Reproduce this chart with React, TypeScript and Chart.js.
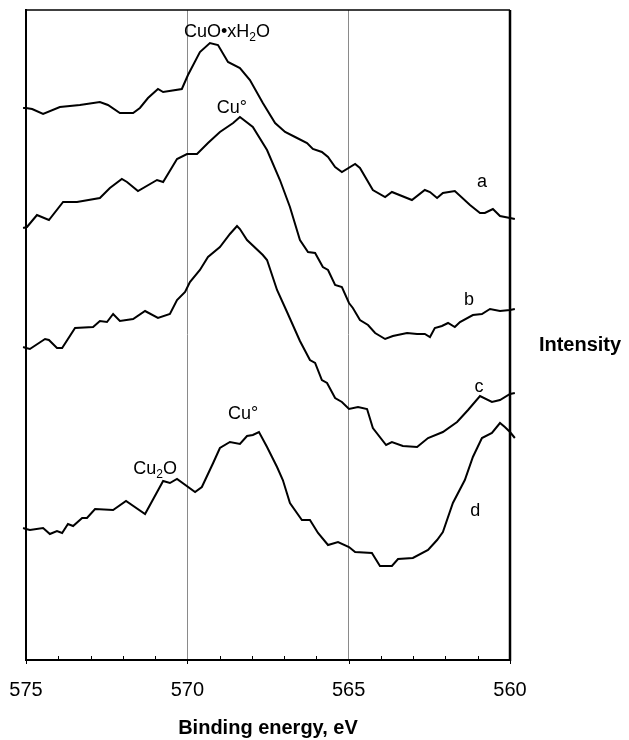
import React, { useEffect, useRef } from "react";
import { Chart, registerables } from "chart.js";

Chart.register(...registerables);

// Binding energy (eV) and intensity (arbitrary, offset) for each spectrum
const aEnergy = [575.09, 575.0, 574.81, 574.47, 573.95, 573.33, 572.71, 572.46, 572.09, 571.68, 571.47, 571.22, 570.91, 570.75, 570.17, 569.98, 569.61, 569.3, 569.05, 568.74, 568.37, 568.06, 567.66, 567.28, 566.97, 566.66, 566.29, 566.11, 565.83, 565.64, 565.42, 565.21, 564.8, 564.65, 564.25, 563.87, 563.66, 563.04, 562.64, 562.48, 562.26, 562.08, 561.71, 561.24, 560.93, 560.78, 560.53, 560.31, 560.0, 559.85];
const aValues = [552, 552, 551, 546, 553, 555, 558, 555, 547, 547, 552, 562, 571, 568, 571, 585, 608, 617, 615, 598, 592, 580, 557, 537, 528, 523, 517, 511, 508, 503, 493, 488, 496, 492, 470, 463, 468, 460, 470, 468, 462, 467, 469, 455, 447, 447, 451, 444, 442, 441];

const bEnergy = [575.09, 574.97, 574.66, 574.29, 573.85, 573.42, 572.71, 572.4, 572.03, 571.87, 571.53, 570.94, 570.75, 570.32, 570.01, 569.7, 569.36, 568.99, 568.58, 568.37, 567.97, 567.53, 567.13, 566.82, 566.51, 566.26, 566.04, 565.8, 565.64, 565.42, 565.21, 564.99, 564.87, 564.65, 564.4, 564.18, 563.87, 563.63, 563.19, 562.88, 562.64, 562.48, 562.33, 562.11, 561.92, 561.71, 561.55, 561.15, 560.87, 560.62, 560.31, 560.0, 559.85];
const bValues = [432, 433, 445, 440, 458, 458, 462, 472, 481, 478, 469, 480, 478, 501, 506, 506, 517, 528, 537, 543, 533, 510, 480, 453, 420, 408, 407, 393, 390, 375, 373, 357, 352, 340, 335, 327, 321, 324, 327, 326, 326, 323, 332, 334, 337, 333, 338, 345, 346, 351, 349, 350, 351];

const cEnergy = [575.09, 575.0, 574.88, 574.41, 574.29, 574.04, 573.88, 573.48, 572.92, 572.71, 572.49, 572.3, 572.09, 571.68, 571.31, 570.91, 570.54, 570.32, 570.07, 569.92, 569.61, 569.36, 568.99, 568.68, 568.46, 568.37, 568.15, 567.66, 567.53, 567.22, 566.91, 566.51, 566.2, 566.04, 565.83, 565.67, 565.42, 565.21, 564.99, 564.71, 564.43, 564.25, 563.84, 563.66, 563.32, 562.88, 562.54, 562.08, 561.64, 561.3, 560.93, 560.56, 560.31, 560.0, 559.85];
const cValues = [313, 312, 311, 321, 320, 312, 312, 332, 333, 339, 338, 346, 339, 341, 349, 342, 346, 360, 368, 378, 390, 403, 413, 426, 434, 431, 420, 405, 400, 370, 348, 319, 300, 297, 280, 277, 262, 258, 251, 253, 251, 232, 215, 218, 214, 213, 222, 228, 238, 250, 264, 258, 260, 266, 267];

const dEnergy = [575.09, 575.0, 574.88, 574.47, 574.26, 574.04, 573.88, 573.7, 573.54, 573.26, 573.11, 572.86, 572.3, 571.9, 571.31, 570.75, 570.54, 570.32, 569.76, 569.55, 569.2, 568.99, 568.68, 568.37, 568.15, 567.97, 567.78, 567.53, 567.22, 567.04, 566.82, 566.45, 566.2, 565.95, 565.64, 565.33, 564.99, 564.8, 564.28, 564.03, 563.66, 563.47, 563.01, 562.54, 562.26, 562.08, 561.77, 561.4, 561.15, 560.87, 560.56, 560.31, 560.16, 560.0, 559.85];
const dValues = [132, 131, 130, 132, 126, 129, 127, 136, 134, 142, 142, 151, 150, 159, 146, 179, 177, 181, 168, 173, 197, 212, 218, 216, 224, 225, 228, 213, 193, 180, 157, 140, 140, 127, 115, 118, 113, 108, 107, 94, 94, 101, 102, 110, 120, 128, 157, 180, 203, 222, 227, 237, 233, 228, 222];

const xTickLabels = ["575", "570", "565", "560"];
const gridEnergies = [570, 565];

// Text annotations: [text runs, energy, intensity]
type Run = { t: string; sub?: boolean };
const annotationTexts: Run[][] = [
  [{ t: "CuO•xH" }, { t: "2", sub: true }, { t: "O" }],
  [{ t: "Cu°" }],
  [{ t: "a" }],
  [{ t: "b" }],
  [{ t: "c" }],
  [{ t: "Cu°" }],
  [{ t: "Cu" }, { t: "2", sub: true }, { t: "O" }],
  [{ t: "d" }],
];
const annotationEnergy = [568.77, 568.62, 560.87, 561.27, 560.96, 568.27, 571.0, 561.08];
const annotationValue = [628, 552, 478, 360, 273, 246, 191, 149];

const FONT = "'Liberation Sans', Arial, Helvetica, sans-serif";

function toPoints(xs: number[], ys: number[]) {
  return xs.map((x, i) => ({ x, y: ys[i] }));
}

function drawRuns(ctx: CanvasRenderingContext2D, runs: Run[], cx: number, cy: number, size: number) {
  const widths = runs.map((r) => {
    ctx.font = `${r.sub ? Math.round(size * 0.68) : size}px ${FONT}`;
    return ctx.measureText(r.t).width;
  });
  const total = widths.reduce((s, w) => s + w, 0);
  let x = cx - total / 2;
  ctx.textBaseline = "middle";
  ctx.textAlign = "left";
  runs.forEach((r, i) => {
    ctx.font = `${r.sub ? Math.round(size * 0.68) : size}px ${FONT}`;
    ctx.fillText(r.t, x, r.sub ? cy + size * 0.3 : cy);
    x += widths[i];
  });
}

const decorPlugin = {
  id: "decor",
  afterDraw(chart: any) {
    const { ctx, chartArea, scales } = chart;
    const xs = scales.x;
    const ys = scales.y;
    ctx.save();
    ctx.strokeStyle = "#000";
    // top border
    ctx.lineWidth = 1.5;
    ctx.beginPath();
    ctx.moveTo(chartArea.left, chartArea.top);
    ctx.lineTo(chartArea.right, chartArea.top);
    ctx.stroke();
    // right border
    ctx.lineWidth = 2.5;
    ctx.beginPath();
    ctx.moveTo(chartArea.right, chartArea.top);
    ctx.lineTo(chartArea.right, chartArea.bottom + 1);
    ctx.stroke();
    // minor inward ticks and small major ticks
    ctx.lineWidth = 1;
    for (let v = 560; v <= 575; v++) {
      const px = Math.round(xs.getPixelForValue(v)) + 0.5;
      ctx.beginPath();
      if (v % 5 === 0) {
        ctx.moveTo(px, chartArea.bottom);
        ctx.lineTo(px, chartArea.bottom + 4);
      } else {
        ctx.moveTo(px, chartArea.bottom);
        ctx.lineTo(px, chartArea.bottom - 4);
      }
      ctx.stroke();
    }
    // annotations
    ctx.fillStyle = "#000";
    annotationTexts.forEach((runs, i) => {
      const px = xs.getPixelForValue(annotationEnergy[i]);
      const py = ys.getPixelForValue(annotationValue[i]);
      drawRuns(ctx, runs, px, py, 18);
    });
    // right-side axis caption
    ctx.font = `bold 20px ${FONT}`;
    ctx.textAlign = "center";
    ctx.textBaseline = "middle";
    ctx.fillText("Intensity", chartArea.right + 70, ys.getPixelForValue(315));
    ctx.restore();
  },
};

export default function App() {
  const ref = useRef<HTMLCanvasElement | null>(null);
  useEffect(() => {
    if (!ref.current) return;
    const mk = (xs: number[], ys: number[]) => ({
      data: toPoints(xs, ys),
      borderColor: "#000",
      borderWidth: 2,
      pointRadius: 0,
      tension: 0,
      fill: false,
      clip: { left: 4, right: 6, top: 0, bottom: 0 },
    });
    const chart = new Chart(ref.current, {
      type: "line",
      data: {
        datasets: [
          mk(aEnergy, aValues),
          mk(bEnergy, bValues),
          mk(cEnergy, cValues),
          mk(dEnergy, dValues),
        ] as any,
      },
      options: {
        animation: false,
        responsive: false,
        devicePixelRatio: 1,
        layout: { padding: { top: 10, right: 119, left: 0, bottom: 0 } },
        plugins: { legend: { display: false }, tooltip: { enabled: false } },
        scales: {
          x: {
            type: "linear",
            reverse: true,
            min: 560,
            max: 575,
            afterFit: (s: any) => {
              s.height = 80;
              s.paddingLeft = 0;
              s.paddingRight = 0;
            },
            afterBuildTicks: (s: any) => {
              s.ticks = xTickLabels.map((l) => ({ value: Number(l) }));
            },
            ticks: {
              autoSkip: false,
              maxRotation: 0,
              padding: 18,
              color: "#000",
              font: { family: FONT, size: 20 },
              callback: (v: any) => String(v),
            },
            grid: {
              drawTicks: false,
              lineWidth: 1,
              color: (c: any) =>
                c.tick && gridEnergies.includes(c.tick.value) ? "#8a8a8a" : "rgba(0,0,0,0)",
            },
            border: { display: true, color: "#000", width: 2 },
            title: {
              display: true,
              text: "Binding energy, eV",
              color: "#000",
              font: { family: FONT, size: 20, weight: "bold" },
              padding: { top: 0, bottom: 0 },
            },
          },
          y: {
            type: "linear",
            min: 0,
            max: 650,
            afterFit: (s: any) => {
              s.width = 26;
            },
            ticks: { display: false },
            grid: { display: false, drawTicks: false },
            border: { display: true, color: "#000", width: 2 },
          },
        },
      },
      plugins: [decorPlugin],
    });
    return () => chart.destroy();
  }, []);
  return (
    <div style={{ position: "fixed", left: 0, top: 0, width: 629, height: 740, background: "#fff" }}>
      <canvas ref={ref} width={629} height={740} style={{ display: "block" }} />
    </div>
  );
}
